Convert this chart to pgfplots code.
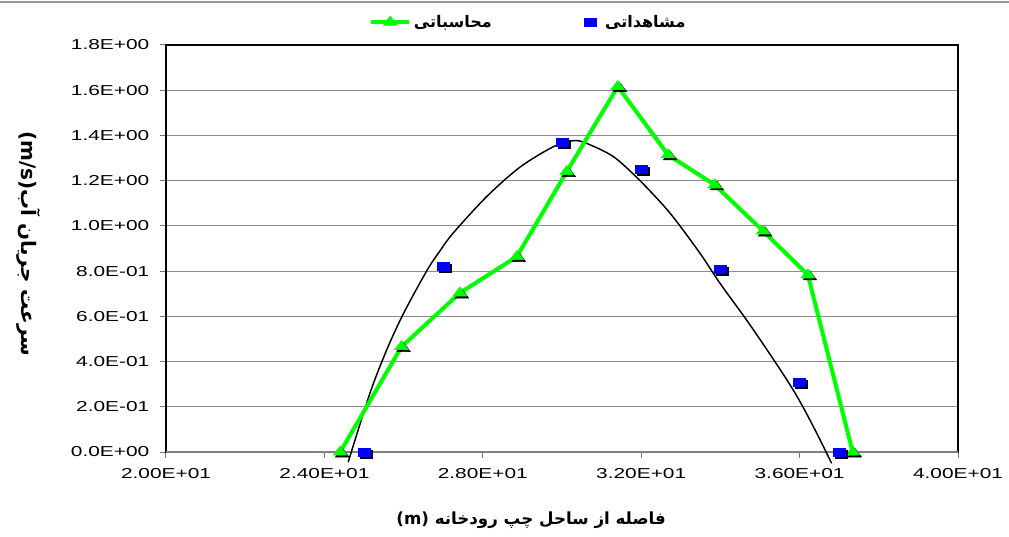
\documentclass[border=0pt]{standalone}
\usepackage{fontspec}
\setmainfont{Liberation Sans}
\newfontfamily\fa[Script=Arabic]{DejaVu Sans}
\TeXXeTstate=1
\usepackage{pgfplots}
\pgfplotsset{compat=1.18}
\definecolor{calc}{RGB}{0,255,0}
\definecolor{obs}{RGB}{0,0,255}
\begin{document}
\begin{tikzpicture}
\begin{axis}[
    scale only axis,
    width=594pt, height=305.25pt,
    xmin=20, xmax=40,
    ymin=0, ymax=1.8,
    clip=false,
    xtick={20,24,28,32,36,40},
    xticklabels={2.00E+01,2.40E+01,2.80E+01,3.20E+01,3.60E+01,4.00E+01},
    ytick={0,0.2,0.4,0.6,0.8,1.0,1.2,1.4,1.6,1.8},
    yticklabels={0.0E+00,2.0E-01,4.0E-01,6.0E-01,8.0E-01,1.0E+00,1.2E+00,1.4E+00,1.6E+00,1.8E+00},
    xtick pos=bottom, ytick pos=left,
    tick align=outside,
    major tick length=4.5pt,
    tick style={black!55, line width=0.75pt},
    ticklabel style={font=\fontsize{10.8pt}{13pt}\selectfont, xscale=1.45},
    xticklabel style={yshift=-4pt},
    yticklabel style={xshift=-2pt},
    ymajorgrids=true,
    grid style={black!45, line width=0.75pt},
    axis line style={black, line width=1.5pt},
    xlabel={\fa\bfseries\fontsize{12.5pt}{15pt}\selectfont (m) \beginR فاصله از ساحل چپ رودخانه\endR},
    xlabel style={at={(axis description cs:0.461,-0.167)}, anchor=center},
    ylabel={\fa\bfseries\fontsize{15pt}{17pt}\selectfont (m/s)\beginR سرعت جریان آب\endR},
    ylabel style={at={(axis description cs:-0.174,0.511)}, anchor=center, rotate=180},
    legend columns=2,
    legend style={draw=none, fill=none, at={(axis description cs:0.458,1.056)}, anchor=center,
        font=\fa\bfseries\fontsize{12pt}{14pt}\selectfont, xscale=1.1,
        /tikz/every even column/.append style={column sep=67pt}},
]
\coordinate (O) at (rel axis cs:0,0);
\draw[black!50, line width=2.2pt] (rel axis cs:0,0) -- (rel axis cs:1,0);

% trend curve of the observations
\addplot[black, line width=1.1pt, smooth, forget plot] coordinates {
(24.60,-0.045)(25.15,0.26)(25.57,0.45)(25.99,0.61)(26.58,0.80)(26.92,0.89)
(27.26,0.97)(28.10,1.13)(28.94,1.26)(29.78,1.35)(30.29,1.377)(30.62,1.365)
(31.30,1.306)(31.97,1.20)(32.73,1.056)(33.48,0.88)(33.99,0.746)(34.66,0.584)
(35.30,0.42)(35.84,0.274)(36.26,0.142)(36.81,-0.05)
};

% shadows of the marks
\addplot[only marks, mark=triangle*, mark size=4.5pt, forget plot,
    mark options={xshift=1.5pt, yshift=-1.5pt, xscale=1.3, black}] coordinates {
(24.4,0)(25.95,0.466)(27.42,0.703)(28.86,0.864)(30.12,1.240)(31.41,1.616)
(32.68,1.314)(33.86,1.181)(35.08,0.977)(36.21,0.783)(37.34,0)
};
\addplot[color=calc, line width=3pt, mark=triangle*, mark size=4.5pt,
    mark options={xscale=1.3, line width=0.5pt, fill=calc, draw=calc},
    legend image code/.code={\draw[mark repeat=2, mark phase=2] plot coordinates {(0cm,0cm)(0.5cm,0cm)(1cm,0cm)};}] coordinates {
(24.4,0)(25.95,0.466)(27.42,0.703)(28.86,0.864)(30.12,1.240)(31.41,1.616)
(32.68,1.314)(33.86,1.181)(35.08,0.977)(36.21,0.783)(37.34,0)
};
\addlegendentry{\beginR محاسباتی\endR}

\addplot[only marks, mark=square*, mark size=3pt, forget plot,
    mark options={xshift=1.5pt, yshift=-1.5pt, xscale=1.5, black}] coordinates {
(25,0)(27,0.82)(30,1.37)(32,1.25)(34,0.81)(36,0.31)(37,0)
};
\addplot[only marks, mark=square*, mark size=3pt,
    mark options={xscale=1.5, obs, line width=0.3pt}] coordinates {
(25,0)(27,0.82)(30,1.37)(32,1.25)(34,0.81)(36,0.31)(37,0)
};
\addlegendentry{\hspace{5pt}\beginR مشاهداتی\endR}
\end{axis}
\pgfresetboundingbox
\path[use as bounding box] ([shift={(-124.5pt,-63pt)}]O) rectangle ([shift={(632.25pt,339pt)}]O);
\draw[black!40, line width=1.2pt] ([shift={(-124.5pt,337.5pt)}]O) -- ([shift={(632.25pt,337.5pt)}]O);
\end{tikzpicture}
\end{document}
